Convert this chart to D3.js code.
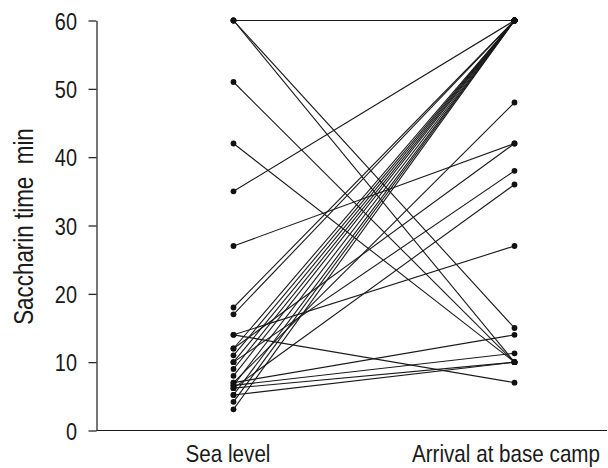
<!DOCTYPE html>
<html>
<head>
<meta charset="utf-8">
<script src="https://cdn.jsdelivr.net/npm/d3@7"></script>
<style>
  body { margin: 0; background: #fff; }
  text { font-family: "Liberation Sans", Arial, sans-serif; fill: #1a1a1a; }
</style>
</head>
<body>
<div id="chart"></div>
<script>
// saccharin time (min), one entry per subject, same order in both arrays
const categories = ["Sea level", "Arrival at base camp"];
const seaLevel = [60, 60, 60, 51, 42, 35, 27, 18, 17, 14, 14, 12, 12, 11, 10, 10, 9, 8, 7, 7, 6.6, 6.6, 6.2, 6.2, 5.2, 5.2, 4.2, 3.1];
const baseCamp = [60, 15, 10, 10, 10, 60, 42, 60, 60, 27, 7, 42, 60, 60, 38, 60, 60, 60, 48, 14, 11.3, 60, 36, 10, 10, 60, 60, 60];
const yTicks = [0, 10, 20, 30, 40, 50, 60];
const yTitle = "Saccharin time  min";

const svgWidth = 608;
const svgHeight = 468;
const margin = { top: 20.5, right: 0, bottom: 37.5, left: 96.5 };
const squeeze = 0.83; // the original type is a condensed face

const svg = d3.select("#chart")
    .append("svg")
    .attr("width", svgWidth)
    .attr("height", svgHeight);

const yScale = d3.scaleLinear().domain([0, 60]).range([svgHeight - margin.bottom, margin.top]);
const xScale = d3.scalePoint().domain(categories).range([233.5, 514.5]);

const subjects = seaLevel.map((v, i) => ({ start: v, end: baseCamp[i] }));

// y axis
svg.append("g")
    .attr("class", "y-axis")
    .attr("transform", "translate(" + margin.left + ",0)")
    .call(d3.axisLeft(yScale).tickValues(yTicks).tickSize(8).tickPadding(11).tickSizeOuter(0))
    .call(g => {
        g.select(".domain").attr("stroke", "#1a1a1a").attr("stroke-width", 1.2);
        g.selectAll("line").attr("stroke", "#1a1a1a").attr("stroke-width", 1.2);
        g.selectAll("text")
            .attr("font-size", 24)
            .attr("fill", "#1a1a1a")
            .style("font-family", "'Liberation Sans', Arial, sans-serif")
            .attr("x", -19.5 / squeeze)
            .attr("dy", "0.36em")
            .attr("transform", "scale(" + squeeze + ",1)");
    });

// x axis (baseline only, labels under each group)
svg.append("g")
    .attr("class", "x-axis")
    .attr("transform", "translate(0," + yScale(0) + ")")
    .call(d3.axisBottom(xScale).tickSize(0))
    .call(g => {
        g.select(".domain").attr("d", "M" + margin.left + ",0H" + (svgWidth - 1))
            .attr("stroke", "#1a1a1a").attr("stroke-width", 1.2);
        g.selectAll("text")
            .attr("font-size", 24)
            .attr("fill", "#1a1a1a")
            .style("font-family", "'Liberation Sans', Arial, sans-serif")
            .attr("y", 31.5)
            .attr("dy", null)
            .attr("dx", (d, i) => (i === 0 ? -6 : -9) / 0.86)
            .attr("transform", "scale(0.86,1)");
    });

svg.append("text")
    .attr("transform", "translate(33," + ((yScale(0) + yScale(60)) / 2 + 1) + ") rotate(-90) scale(" + squeeze + ",1)")
    .attr("text-anchor", "middle")
    .attr("font-size", 27)
    .style("white-space", "pre")
    .text(yTitle);

// one line per subject
svg.append("g")
    .selectAll("line")
    .data(subjects)
    .enter()
    .append("line")
    .attr("x1", xScale(categories[0]))
    .attr("y1", d => yScale(d.start))
    .attr("x2", xScale(categories[1]))
    .attr("y2", d => yScale(d.end))
    .attr("stroke", "#1a1a1a")
    .attr("stroke-width", 1.1);

const dots = svg.append("g");
categories.forEach((c, ci) => {
    dots.selectAll(".dot-" + ci)
        .data(ci === 0 ? seaLevel : baseCamp)
        .enter()
        .append("circle")
        .attr("class", "dot-" + ci)
        .attr("cx", xScale(c))
        .attr("cy", d => yScale(d))
        .attr("r", 2.9)
        .attr("fill", "#111");
});
</script>
</body>
</html>
